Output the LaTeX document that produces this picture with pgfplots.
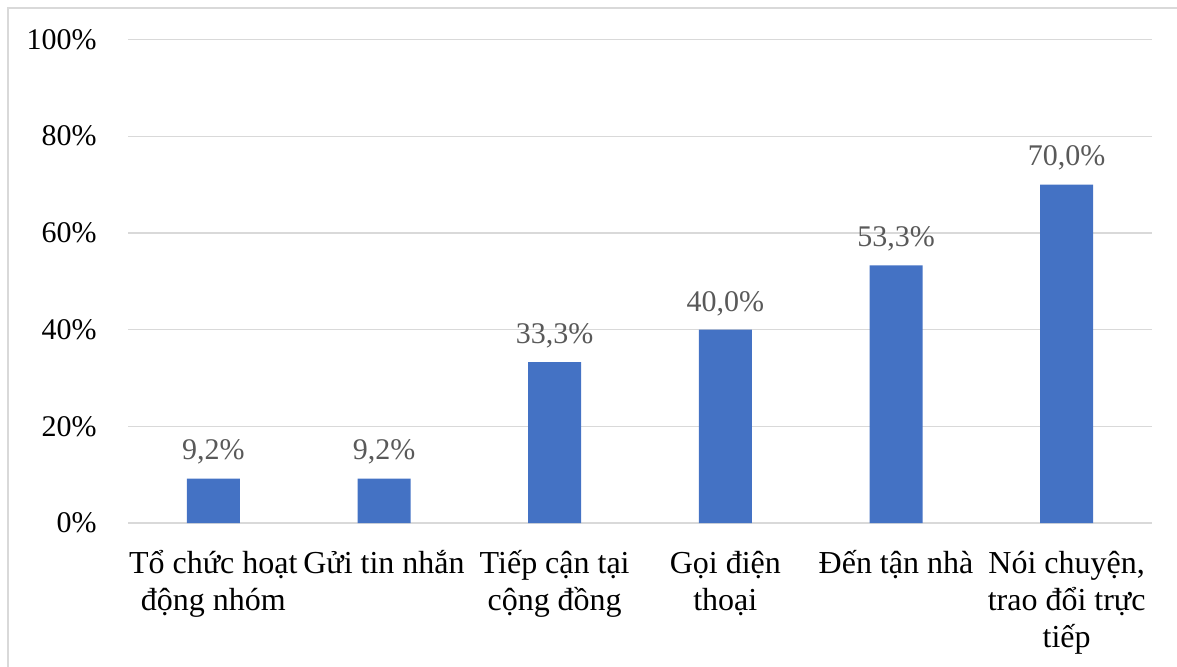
\documentclass[border=0pt]{standalone}
\usepackage{fontspec}
\setmainfont{Liberation Serif}
\usepackage{pgfplots}
\pgfplotsset{compat=1.18}
\definecolor{barblue}{HTML}{4472C4}
\definecolor{gridgray}{HTML}{D9D9D9}
\definecolor{labelgray}{HTML}{595959}
% fixed-height strut so every first line of a category label sits on the same baseline
\newcommand{\st}{\rule{0pt}{16pt}}
\begin{document}
\begin{tikzpicture}
\useasboundingbox (0,0) rectangle (588.5pt,333pt);
% chart frame
\draw[gridgray, line width=0.75pt] (4pt,-10pt) -- (4pt,329pt) -- (600pt,329pt);
\begin{axis}[
  at={(64pt,71.5pt)}, anchor=south west,
  scale only axis,
  width=512pt, height=241.75pt,
  xmin=-0.5, xmax=5.5,
  ymin=0, ymax=100,
  axis line style={draw=none},
  major tick length=0pt,
  ymajorgrids,
  grid style={gridgray, line width=0.65pt},
  ytick={0,20,40,60,80,100},
  yticklabels={0\%,20\%,40\%,60\%,80\%,100\%},
  xtick={0,1,2,3,4,5},
  xticklabels={
    {\st Tổ chức hoạt\\động nhóm},
    {\st Gửi tin nhắn},
    {\st Tiếp cận tại\\cộng đồng},
    {\st Gọi điện\\thoại},
    {\st Đến tận nhà},
    {\st Nói chuyện,\\trao đổi trực\\tiếp}},
  /pgf/number format/assume math mode=true,
  yticklabel style={font=\fontsize{15}{18.5}\selectfont, text=black, inner sep=0pt, xshift=-15.5pt},
  xticklabel style={font=\fontsize{16}{18.5}\selectfont, text=black, inner sep=0pt, anchor=north, yshift=-9pt, align=center},
  nodes near coords={\pgfmathprintnumber[fixed,fixed zerofill,precision=1,use comma]{\pgfplotspointmeta}\%},
  every node near coord/.append style={font=\fontsize{15}{18.5}\selectfont, text=labelgray, anchor=base, inner sep=0pt, yshift=9.3pt},
]
\addplot[ybar, bar width=26.5pt, fill=barblue, draw=none] coordinates {
  (0,9.2) (1,9.2) (2,33.3) (3,40.0) (4,53.3) (5,70.0)
};
\end{axis}
\end{tikzpicture}
\end{document}
